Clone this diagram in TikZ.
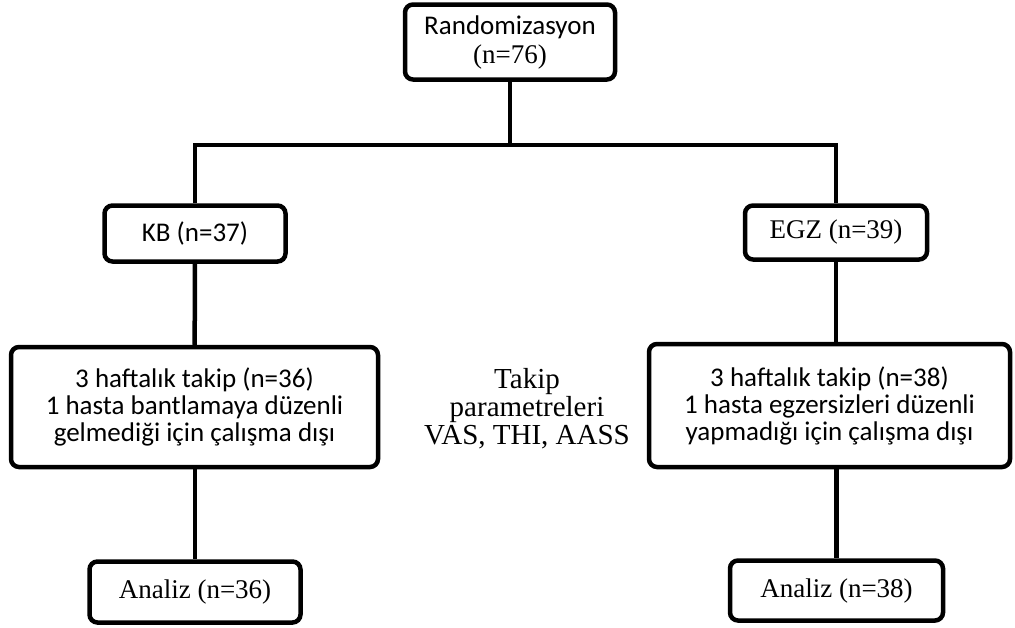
\documentclass[tikz,border=0pt]{standalone}
\usepackage{fontspec}
\setmainfont{Carlito}
\newfontfamily\cambria{Liberation Serif}
\usetikzlibrary{positioning}

\begin{document}
\begin{tikzpicture}[
  x=1pt, y=-1pt,
  font=\fontsize{27}{27}\selectfont,
  % flow chart node styles
  box/.style={
    rectangle, draw=black, line width=4.5pt, rounded corners=8pt,
    fill=white, align=center, inner sep=0pt
  },
  serif/.style={font=\fontsize{27}{28}\selectfont\cambria},
  link/.style={line width=4.5pt, color=black}
]
\useasboundingbox (0,0) rectangle (1015,627);

% Top and group nodes
\node[box, minimum width=210pt, minimum height=75pt] (rand) at (510,42)
  {Randomizasyon\\[2pt]{\cambria (n=76)}};
\node[box, minimum width=181pt, minimum height=56pt] (kb) at (195,233.5) {KB (n=37)};
\node[box, serif, minimum width=182pt, minimum height=54pt] (egz) at (836,232.5) {EGZ (n=39)};

% Follow-up nodes
\node[box, minimum width=367pt, minimum height=120pt, below=81pt of kb, xshift=-0.5pt] (ltakip)
  {3 haftalık takip (n=36)\\1 hasta bantlamaya düzenli\\gelmediği için çalışma dışı};
\node[box, minimum width=361pt, minimum height=123pt, below=80pt of egz, xshift=-6.5pt] (rtakip)
  {3 haftalık takip (n=38)\\1 hasta egzersizleri düzenli\\yapmadığı için çalışma dışı};

% Analysis nodes
\node[box, serif, minimum width=211pt, minimum height=61pt, below=90pt of ltakip, xshift=0.5pt] (lanaliz) {Analiz (n=36)};
\node[box, serif, minimum width=213pt, minimum height=60pt, below=89pt of rtakip, xshift=7pt] (ranaliz) {Analiz (n=38)};

% Middle label
\node[serif, font=\fontsize{29}{28}\selectfont\cambria, align=center] (param) at (527,409)
  {Takip\\parametreleri\\VAS, THI, AASS};

% Connectors
\coordinate[below=63pt of rand] (split);
\draw[link] (rand.south) -- (split);
\draw[link] (kb.north) |- (split) -| (egz.north);
\draw[link] (kb) -- (ltakip);
\draw[link] (egz.south) -- (egz |- rtakip.north);
\draw[link] (ltakip.south -| lanaliz) -- (lanaliz);
\draw[link] (rtakip.south -| ranaliz) -- (ranaliz);

\end{tikzpicture}
\end{document}
